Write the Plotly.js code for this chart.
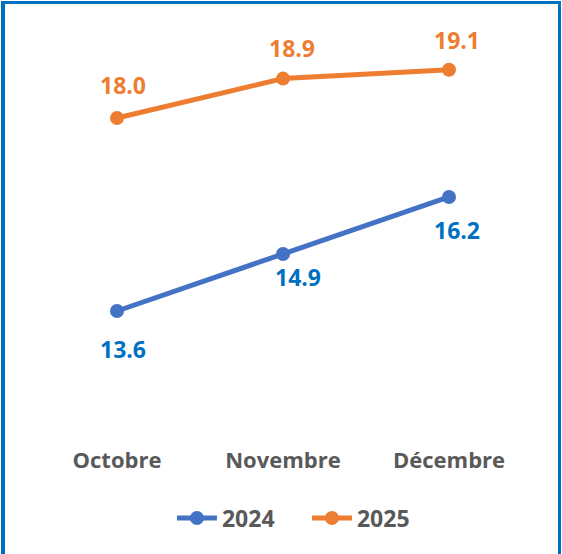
<!DOCTYPE html>
<html><head><meta charset="utf-8">
<script src="https://cdn.plot.ly/plotly-3.0.1.min.js"></script>
<style>
html,body{margin:0;padding:0;background:#fff;}
#chart{width:562px;height:554px;position:absolute;left:0;top:0;}
#frame{position:absolute;left:1px;top:1px;width:553px;height:551px;border-left:4px solid #0070C0;border-top:3px solid #0070C0;border-right:3px solid #0070C0;border-bottom:1px solid #EEEEF2;pointer-events:none;}
</style></head>
<body>
<div id="chart"></div>
<div id="frame"></div>
<script>
const categories = ["Octobre", "Novembre", "Décembre"];
const series2024 = [13.6, 14.9, 16.2];
const series2025 = [18.0, 18.9, 19.1];
const labels2024 = ["13.6", "14.9", "16.2"];
const labels2025 = ["18.0", "18.9", "19.1"];

const blue = "#4472C4", orange = "#ED7D31", labelBlue = "#0070C0", grey = "#595959";
const fontFam = "'Open Sans', 'Noto Sans', sans-serif";

const traces = [
  {x: categories, y: series2024, name: "2024", type: "scatter", mode: "lines+markers",
   line: {color: blue, width: 5}, marker: {color: blue, size: 14}},
  {x: categories, y: series2025, name: "2025", type: "scatter", mode: "lines+markers",
   line: {color: orange, width: 5}, marker: {color: orange, size: 14}}
];

const ann = [];
const shift2024 = [[6,-38],[15,-23],[8,-33]];
const shift2025 = [[6,33],[9,31],[8,30]];
categories.forEach((c, i) => {
  ann.push({x: c, y: series2024[i], text: labels2024[i], showarrow: false,
    xshift: shift2024[i][0], yshift: shift2024[i][1],
    font: {family: fontFam, size: 23, color: labelBlue, weight: 700}});
  ann.push({x: c, y: series2025[i], text: labels2025[i], showarrow: false,
    xshift: shift2025[i][0], yshift: shift2025[i][1],
    font: {family: fontFam, size: 23, color: orange, weight: 700}});
});

const layout = {
  width: 562, height: 554,
  margin: {l: 34, r: 30, t: 30, b: 124},
  paper_bgcolor: "#fff", plot_bgcolor: "#fff",
  showlegend: true,
  legend: {orientation: "h", x: 0.277, xanchor: "left", y: -0.22, yanchor: "middle",
    font: {family: fontFam, size: 23, color: grey, weight: 700}, itemwidth: 40,
    entrywidth: 80, entrywidthmode: "pixels"},
  xaxis: {type: "category", range: [-0.5, 2.5], showgrid: false, zeroline: false, showline: false,
    ticks: "", ticklabelstandoff: 15,
    tickfont: {family: fontFam, size: 22, color: grey, weight: 700}},
  yaxis: {range: [10.886, 20.008], visible: false, showgrid: false, zeroline: false},
  annotations: ann
};

Plotly.newPlot("chart", traces, layout, {displayModeBar: false, staticPlot: true});
</script>
</body></html>
